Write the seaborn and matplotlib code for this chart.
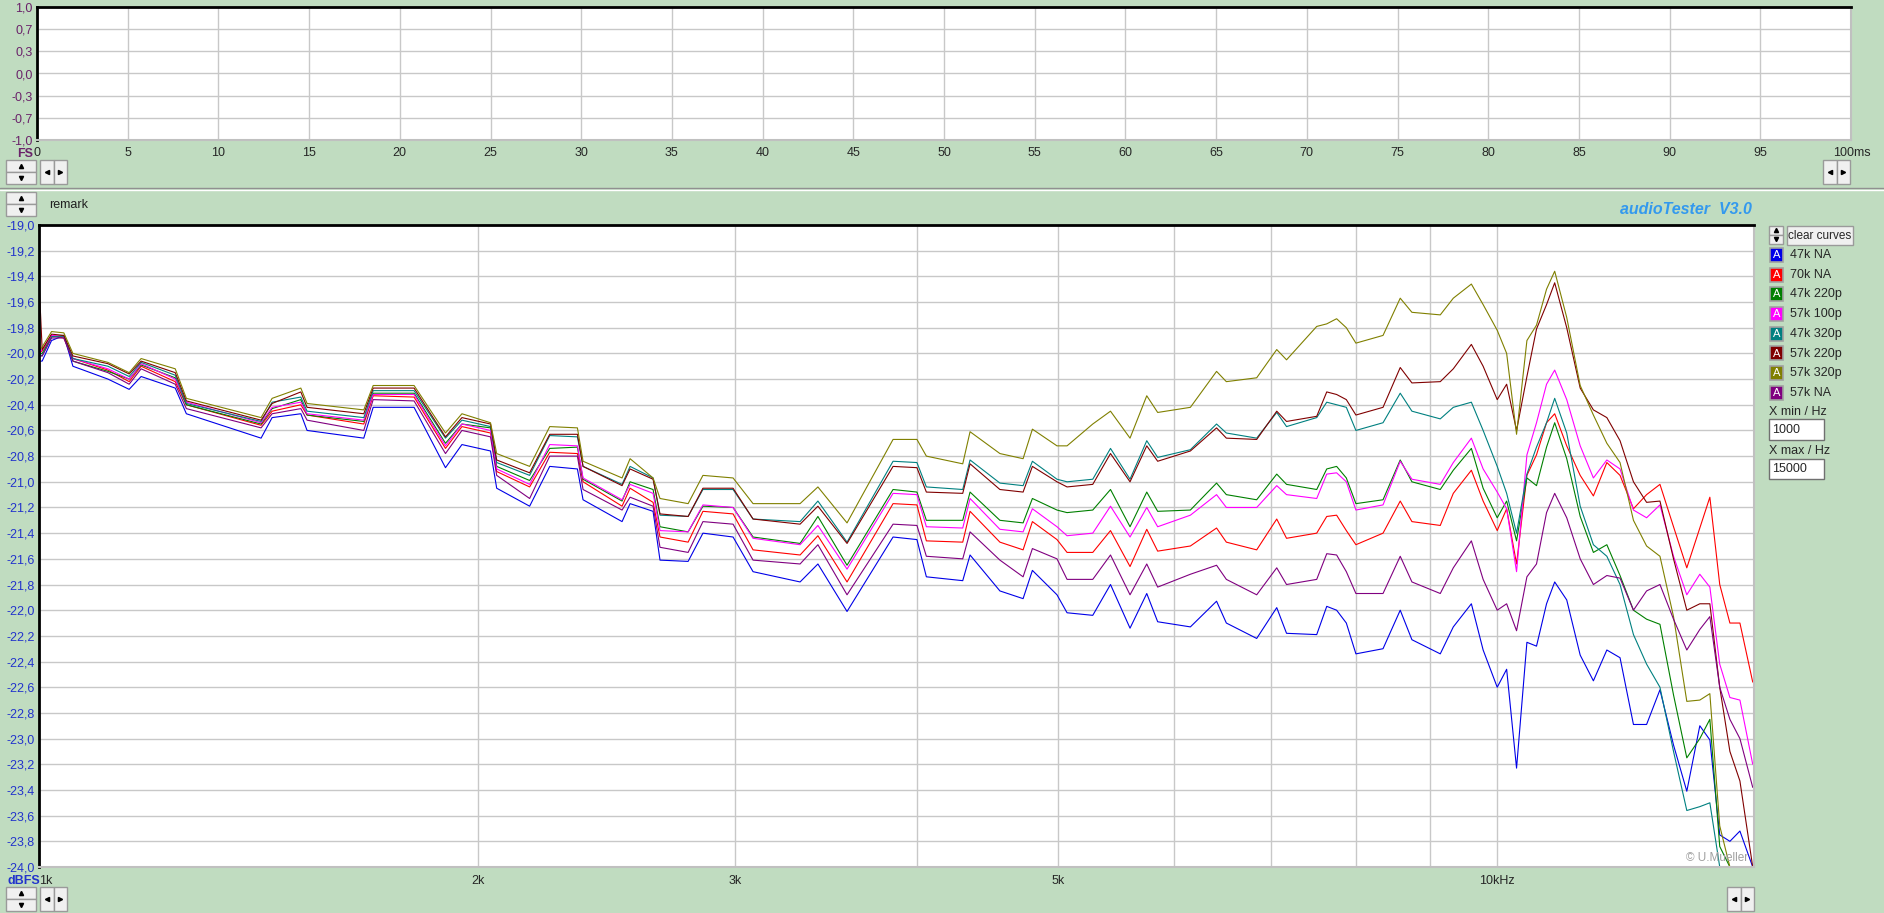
import numpy as np
import pandas as pd
import seaborn as sns
import matplotlib.pyplot as plt
from matplotlib.patches import Rectangle
from matplotlib.lines import Line2D
from matplotlib.ticker import FixedLocator, FuncFormatter, NullLocator
from matplotlib.transforms import ScaledTranslation

# ---- data (Hz / dBFS) ----
freq = [1000, 1005, 1020, 1040, 1055, 1115, 1153, 1175, 1240, 1262, 1420, 1445, 1512, 1527,
        1670, 1695, 1808, 1900, 1950, 2040, 2060, 2170,
        2240, 2340, 2361, 2511, 2543, 2637, 2666, 2787, 2853, 2992, 3088, 3326, 3421, 3582,
        3852, 4000, 4060, 4300, 4350, 4560, 4730, 4800, 4990,
        5070, 5280, 5430, 5600, 5750, 5850, 6160, 6420, 6520, 6840, 7060, 7170, 7520, 7640,
        7760, 7880, 8000, 8350, 8580, 8740,
        9140, 9330, 9600, 9780, 10000, 10150, 10310, 10480, 10640, 10810, 10950, 11160, 11400,
        11640, 11890, 12140, 12400, 12660, 12930, 13210, 13490, 13770, 13990, 14210, 14440,
        14670, 14970]

v_47k_na = [-20.06, -20.06, -19.90, -19.86, -20.10, -20.20, -20.28, -20.18, -20.27, -20.47, -20.66,
            -20.50, -20.47, -20.60, -20.66, -20.42, -20.42, -20.89, -20.71, -20.76, -21.05, -21.19,
            -20.88, -20.90, -21.14, -21.31, -21.17, -21.23, -21.61, -21.62, -21.40, -21.43, -21.70,
            -21.78, -21.64, -22.01, -21.43, -21.45, -21.74, -21.77, -21.57, -21.85, -21.91, -21.69,
            -21.88,
            -22.02, -22.04, -21.80, -22.14, -21.87, -22.09, -22.13, -21.93, -22.10, -22.22, -21.98,
            -22.18, -22.19, -21.97, -22.00, -22.10, -22.34, -22.30, -22.00, -22.23,
            -22.34, -22.13, -21.95, -22.31, -22.60, -22.46, -23.23, -22.25, -22.28, -21.95, -21.78,
            -21.92, -22.35, -22.55, -22.31, -22.37, -22.89, -22.89, -22.62, -23.05, -23.41, -22.90,
            -23.01, -23.75, -23.80, -23.72, -24.00]
v_70k_na = [-20.00, -19.98, -19.86, -19.88, -20.04, -20.13, -20.22, -20.10, -20.22, -20.40, -20.56,
            -20.45, -20.40, -20.48, -20.55, -20.33, -20.34, -20.74, -20.57, -20.62, -20.92, -21.04,
            -20.77, -20.78, -21.00, -21.19, -21.05, -21.16, -21.43, -21.47, -21.23, -21.25, -21.53,
            -21.57, -21.42, -21.78, -21.17, -21.18, -21.46, -21.47, -21.23, -21.47, -21.53, -21.31,
            -21.45,
            -21.55, -21.55, -21.38, -21.66, -21.37, -21.54, -21.50, -21.36, -21.47, -21.53, -21.29,
            -21.44, -21.40, -21.27, -21.26, -21.38, -21.49, -21.40, -21.15, -21.31,
            -21.34, -21.09, -20.91, -21.15, -21.38, -21.21, -21.64, -20.95, -20.79, -20.54, -20.47,
            -20.72, -20.95, -21.11, -20.85, -20.95, -21.21, -21.10, -21.02, -21.35, -21.67, -21.36,
            -21.12, -21.80, -22.10, -22.10, -22.56]
v_47k_220p = [-20.00, -20.00, -19.87, -19.86, -20.06, -20.14, -20.20, -20.09, -20.19, -20.40, -20.55,
              -20.43, -20.36, -20.48, -20.53, -20.31, -20.31, -20.70, -20.55, -20.58, -20.88, -20.99,
              -20.74, -20.73, -20.98, -21.15, -21.00, -21.06, -21.35, -21.39, -21.19, -21.20, -21.43,
              -21.48, -21.27, -21.65, -21.06, -21.08, -21.30, -21.30, -21.08, -21.30, -21.32, -21.13,
              -21.22,
              -21.24, -21.22, -21.06, -21.35, -21.08, -21.23, -21.22, -21.01, -21.10, -21.14, -20.94,
              -21.02, -21.06, -20.90, -20.88, -20.97, -21.17, -21.14, -20.83, -21.00,
              -21.06, -20.91, -20.74, -21.05, -21.28, -21.15, -21.46, -20.97, -21.03, -20.73, -20.54,
              -20.82, -21.27, -21.55, -21.49, -21.73, -22.00, -22.07, -22.11, -22.66, -23.15, -23.00,
              -22.85, -23.84, -24.00, -24.00, -24.00]
v_57k_100p = [-20.00, -19.97, -19.86, -19.87, -20.04, -20.12, -20.20, -20.08, -20.20, -20.38, -20.54,
              -20.42, -20.38, -20.47, -20.52, -20.32, -20.32, -20.72, -20.55, -20.60, -20.90, -21.02,
              -20.71, -20.72, -20.97, -21.14, -21.02, -21.09, -21.38, -21.39, -21.18, -21.20, -21.44,
              -21.49, -21.34, -21.68, -21.09, -21.10, -21.35, -21.36, -21.13, -21.37, -21.39, -21.21,
              -21.35,
              -21.42, -21.40, -21.19, -21.43, -21.20, -21.35, -21.26, -21.10, -21.20, -21.20, -21.03,
              -21.10, -21.13, -20.94, -20.93, -21.00, -21.22, -21.18, -20.84, -20.98,
              -21.02, -20.85, -20.66, -20.90, -21.08, -21.21, -21.70, -20.79, -20.54, -20.24, -20.13,
              -20.36, -20.72, -20.97, -20.83, -20.90, -21.22, -21.28, -21.18, -21.58, -21.88, -21.72,
              -21.82, -22.42, -22.68, -22.70, -23.20]
v_47k_320p = [-20.00, -20.02, -19.87, -19.87, -20.04, -20.10, -20.18, -20.07, -20.17, -20.39, -20.53,
              -20.38, -20.34, -20.45, -20.50, -20.29, -20.29, -20.66, -20.52, -20.57, -20.85, -20.95,
              -20.64, -20.65, -20.88, -21.02, -20.88, -20.97, -21.26, -21.27, -21.06, -21.06, -21.29,
              -21.31, -21.15, -21.47, -20.84, -20.85, -21.04, -21.06, -20.83, -21.01, -21.03, -20.84,
              -20.98,
              -21.00, -20.98, -20.74, -20.98, -20.68, -20.81, -20.75, -20.55, -20.62, -20.66, -20.46,
              -20.57, -20.50, -20.38, -20.40, -20.42, -20.60, -20.54, -20.31, -20.45,
              -20.51, -20.42, -20.38, -20.60, -20.88, -21.09, -21.40, -20.94, -20.73, -20.54, -20.35,
              -20.62, -21.19, -21.49, -21.58, -21.80, -22.19, -22.42, -22.60, -23.10, -23.56, -23.53,
              -23.50, -24.00, -24.00, -24.00, -24.00]
v_57k_220p = [-19.43, -19.97, -19.85, -19.86, -20.02, -20.08, -20.16, -20.06, -20.15, -20.37, -20.52,
              -20.39, -20.30, -20.42, -20.47, -20.27, -20.27, -20.65, -20.50, -20.55, -20.83, -20.93,
              -20.63, -20.63, -20.88, -21.03, -20.90, -20.98, -21.25, -21.27, -21.05, -21.05, -21.29,
              -21.33, -21.19, -21.48, -20.88, -20.89, -21.08, -21.09, -20.86, -21.06, -21.08, -20.88,
              -21.00,
              -21.04, -21.02, -20.78, -21.00, -20.72, -20.84, -20.76, -20.58, -20.66, -20.67, -20.45,
              -20.53, -20.49, -20.30, -20.32, -20.36, -20.48, -20.42, -20.11, -20.23,
              -20.22, -20.12, -19.93, -20.10, -20.36, -20.24, -20.60, -20.18, -19.81, -19.62, -19.45,
              -19.80, -20.27, -20.44, -20.50, -20.68, -21.00, -21.16, -21.15, -21.60, -22.00, -21.95,
              -21.95, -22.60, -23.10, -23.33, -24.00]
v_57k_320p = [-19.98, -19.95, -19.83, -19.84, -20.00, -20.07, -20.15, -20.04, -20.12, -20.35, -20.50,
              -20.35, -20.27, -20.39, -20.44, -20.25, -20.25, -20.62, -20.47, -20.54, -20.78, -20.88,
              -20.57, -20.58, -20.84, -20.97, -20.82, -20.97, -21.13, -21.17, -20.95, -20.97, -21.17,
              -21.17, -21.04, -21.32, -20.67, -20.67, -20.80, -20.86, -20.61, -20.78, -20.82, -20.59,
              -20.72,
              -20.72, -20.55, -20.45, -20.66, -20.33, -20.46, -20.42, -20.14, -20.22, -20.19, -19.97,
              -20.05, -19.79, -19.77, -19.73, -19.80, -19.92, -19.86, -19.57, -19.68,
              -19.70, -19.57, -19.46, -19.62, -19.82, -20.00, -20.63, -19.90, -19.78, -19.50, -19.36,
              -19.72, -20.25, -20.48, -20.70, -20.85, -21.30, -21.50, -21.58, -22.05, -22.71, -22.70,
              -22.65, -23.68, -24.00, -24.00, -24.00]
v_57k_na = [-20.02, -20.02, -19.88, -19.88, -20.06, -20.15, -20.24, -20.12, -20.24, -20.43, -20.58,
            -20.47, -20.43, -20.52, -20.60, -20.36, -20.37, -20.78, -20.60, -20.65, -20.95, -21.13,
            -20.80, -20.80, -21.06, -21.22, -21.12, -21.19, -21.51, -21.55, -21.31, -21.33, -21.61,
            -21.64, -21.49, -21.88, -21.33, -21.34, -21.58, -21.60, -21.39, -21.61, -21.74, -21.52,
            -21.60,
            -21.76, -21.76, -21.57, -21.88, -21.64, -21.82, -21.72, -21.65, -21.76, -21.88, -21.67,
            -21.80, -21.76, -21.56, -21.57, -21.70, -21.87, -21.87, -21.58, -21.78,
            -21.87, -21.67, -21.46, -21.76, -22.00, -21.95, -22.16, -21.74, -21.64, -21.24, -21.09,
            -21.28, -21.60, -21.80, -21.73, -21.75, -22.00, -21.85, -21.80, -22.07, -22.31, -22.15,
            -22.05, -22.60, -22.85, -23.00, -23.38]

names = ['47k NA', '70k NA', '47k 220p', '57k 100p', '47k 320p', '57k 220p', '57k 320p', '57k NA']
series = [v_47k_na, v_70k_na, v_47k_220p, v_57k_100p, v_47k_320p, v_57k_220p, v_57k_320p, v_57k_na]
colors = ['#0000E8', '#FF0000', '#008000', '#FF00FF', '#008080', '#800000', '#808000', '#800080']

x_labels = {1000: '1k', 2000: '2k', 3000: '3k', 5000: '5k', 10000: '10kHz'}
top_yticks = [1, 2 / 3, 1 / 3, 0, -1 / 3, -2 / 3, -1]

df = pd.concat([pd.DataFrame({'freq': freq, 'dbfs': v, 'curve': n}) for n, v in zip(names, series)])

# ---- figure ----
W, H = 1884, 913
BG = '#C0DCC0'
sns.set_theme(style='white')
plt.rcParams['font.family'] = ['Liberation Sans', 'DejaVu Sans']
fig = plt.figure(figsize=(W / 100, H / 100), dpi=100, facecolor=BG)


def box(x0, y0, x1, y1):
    return [x0 / W, 1 - y1 / H, (x1 - x0) / W, (y1 - y0) / H]


def fx(x, y):
    return x / W, 1 - y / H


comma = FuncFormatter(lambda v, p: f'{v:.1f}'.replace('.', ','))

# top (time) panel
ax_t = fig.add_axes(box(37, 7, 1851, 140))
ax_t.set_facecolor('white')
ax_t.set_xlim(0, 100)
ax_t.set_ylim(-1, 1)
ax_t.xaxis.set_major_locator(FixedLocator(np.arange(0, 101, 5)))
ax_t.yaxis.set_major_locator(FixedLocator(top_yticks))
ax_t.yaxis.set_major_formatter(comma)
ax_t.set_xticklabels([str(v) if v < 100 else '100ms' for v in range(0, 101, 5)])
ax_t.grid(True, color='#C8C8C8', lw=1)
ax_t.tick_params(length=0, labelsize=9, pad=5)
ax_t.tick_params(axis='y', labelcolor='#6A226A', pad=3)
last = ax_t.get_xticklabels()[-1]
last.set_ha('left')
last.set_transform(last.get_transform() + ScaledTranslation(-0.18, 0, fig.dpi_scale_trans))

# bottom (frequency) panel
ax = fig.add_axes(box(39, 225, 1754, 867))
ax.set_facecolor('white')
sns.lineplot(data=df, x='freq', y='dbfs', hue='curve', hue_order=names,
             palette=dict(zip(names, colors)), estimator=None, sort=False,
             linewidth=0.8, legend=False, ax=ax)
ax.set_xscale('log')
ax.set_xlim(1000, 15000)
ax.set_ylim(-24, -19)
ax.xaxis.set_major_locator(FixedLocator(np.arange(1000, 10001, 1000)))
ax.xaxis.set_minor_locator(NullLocator())
ax.set_xticklabels([x_labels.get(v, '') for v in range(1000, 10001, 1000)])
ax.yaxis.set_major_locator(FixedLocator(np.round(np.arange(-24, -18.99, 0.2), 1)))
ax.yaxis.set_major_formatter(comma)
ax.grid(True, color='#C8C8C8', lw=1)
ax.tick_params(length=0, labelsize=9, pad=6)
ax.tick_params(axis='y', labelcolor='#2233CC', pad=3)
ax.set_xlabel('')
ax.set_ylabel('')
ax.get_xticklabels()[0].set_ha('left')

for a in (ax_t, ax):
    for s in ('left', 'top'):
        a.spines[s].set_color('black')
        a.spines[s].set_linewidth(2)
    for s in ('right', 'bottom'):
        a.spines[s].set_color('#C0C0C0')
        a.spines[s].set_linewidth(1.5)

# axis captions
fig.text(*fx(17, 154), 'FS', color='#6A226A', fontsize=9, fontweight='bold', va='center')
fig.text(*fx(7, 881), 'dBFS', color='#2233CC', fontsize=9, fontweight='bold', va='center')
fig.text(*fx(49, 205), 'remark', fontsize=9, va='center', color='#202020')
fig.text(*fx(1752, 209), 'audioTester  V3.0', fontsize=11.5, color='#3399EE',
         fontstyle='italic', fontweight='bold', ha='right', va='center')
fig.text(*fx(1748, 858), '\u00a9 U.Mueller', fontsize=8.5, color='#A0A0A0', ha='right', va='center')

# separator between panels
fig.add_artist(Line2D([0, 1], [1 - 188 / H] * 2, color='#909090', lw=1, transform=fig.transFigure))
fig.add_artist(Line2D([0, 1], [1 - 190 / H] * 2, color='white', lw=1, transform=fig.transFigure))


def button(x0, y0, x1, y1):
    fig.add_artist(Rectangle(fx(x0, y1), (x1 - x0) / W, (y1 - y0) / H, transform=fig.transFigure,
                             facecolor='#F0F0F0', edgecolor='#9A9A9A', lw=1))


def arrow(x, y, m):
    fig.add_artist(Line2D([x / W], [1 - y / H], marker=m, ms=3, color='black', lw=0,
                          transform=fig.transFigure))


def updown(x0, y0, x1, y1):
    ym = (y0 + y1) / 2
    button(x0, y0, x1, ym)
    button(x0, ym, x1, y1)
    arrow((x0 + x1) / 2, (y0 + ym) / 2, '^')
    arrow((x0 + x1) / 2, (ym + y1) / 2, 'v')


def leftright(x0, y0, x1, y1):
    xm = (x0 + x1) / 2
    button(x0, y0, xm, y1)
    button(xm, y0, x1, y1)
    arrow((x0 + xm) / 2, (y0 + y1) / 2, '<')
    arrow((xm + x1) / 2, (y0 + y1) / 2, '>')


updown(6, 160, 36, 184)
leftright(40, 160, 67, 184)
leftright(1823, 160, 1850, 184)
updown(6, 192, 36, 216)
updown(6, 887, 36, 911)
leftright(40, 887, 67, 911)
leftright(1727, 887, 1754, 911)
updown(1769, 226, 1783, 244)

# curve list on the right
button(1787, 226, 1853, 245)
fig.text(*fx(1820, 235.5), 'clear curves', fontsize=8.5, ha='center', va='center')
for i, (n, c) in enumerate(zip(names, colors)):
    y = 255 + i * 19.7
    fig.add_artist(Rectangle(fx(1770, y + 7), 13 / W, 14 / H, transform=fig.transFigure,
                             facecolor=c, edgecolor='#A0A0A0', lw=1.2))
    fig.text(*fx(1776.5, y), 'A', color='white', fontsize=8, ha='center', va='center')
    fig.text(*fx(1790, y), n, fontsize=9, va='center')

fig.text(*fx(1769, 412), 'X min / Hz', fontsize=9, va='center')
fig.add_artist(Rectangle(fx(1769, 440), 55 / W, 21 / H, transform=fig.transFigure,
                         facecolor='white', edgecolor='#707070', lw=1))
fig.text(*fx(1772, 430), '1000', fontsize=9, va='center')
fig.text(*fx(1769, 451), 'X max / Hz', fontsize=9, va='center')
fig.add_artist(Rectangle(fx(1769, 479), 55 / W, 20 / H, transform=fig.transFigure,
                         facecolor='white', edgecolor='#707070', lw=1))
fig.text(*fx(1772, 469), '15000', fontsize=9, va='center')

fig.savefig('out.png', dpi=100, facecolor=BG)
